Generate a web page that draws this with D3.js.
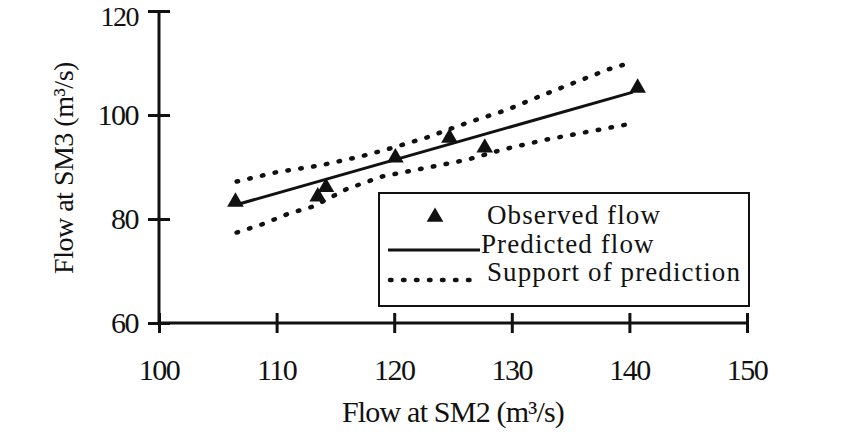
<!DOCTYPE html>
<html>
<head>
<meta charset="utf-8">
<script src="https://cdn.jsdelivr.net/npm/d3@7"></script>
<style>
  html, body { margin: 0; padding: 0; background: #fff; }
  svg { display: block; }
  text { font-family: "Liberation Serif", "Times New Roman", serif; fill: #111; }
</style>
</head>
<body>
<svg id="chart" width="853" height="440"></svg>
<script>
// ---- data ----
const xTicks = [100, 110, 120, 130, 140, 150];
const yTicks = [60, 80, 100, 120];

const observedX = [106.5, 113.5, 114.2, 120.1, 124.7, 127.7, 140.7];
const observedY = [83.3, 84.3, 86.1, 91.8, 95.6, 93.7, 105.2];

const predictedX = [106.5, 140.3];
const predictedY = [82.7, 104.4];

const upperX = [106.6, 110.0, 113.7, 117.1, 119.4, 122.8, 126.2, 129.6, 132.7, 138.1, 140.3];
const upperY = [87.2, 89.0, 90.3, 92.0, 93.4, 95.7, 98.5, 101.0, 103.9, 108.7, 110.2];

const lowerX = [106.6, 108.8, 111.1, 113.1, 116.0, 119.0, 123.3, 126.2, 129.3, 133.0, 139.6, 140.3];
const lowerY = [77.4, 79.0, 81.1, 82.4, 85.8, 88.2, 90.1, 91.4, 93.4, 95.3, 98.1, 98.3];

const legendLabels = ["Observed flow", "Predicted flow", "Support of prediction"];
const xTitle = "Flow at SM2 (m³/s)";
const yTitle = "Flow at SM3 (m³/s)";

// ---- layout ----
const svg = d3.select("#chart");
const x = d3.scaleLinear().domain([100, 150]).range([159, 747]);
const y = d3.scaleLinear().domain([60, 120]).range([323, 11]);
const ink = "#111";
const fontSize = 30;

const line = d3.line().x(d => x(d[0])).y(d => y(d[1]));

const dotted = { stroke: ink, "stroke-width": 4.5, "stroke-dasharray": "1.5,11.5", "stroke-linecap": "round", fill: "none" };
function applyAttrs(sel, attrs) { Object.entries(attrs).forEach(([k, v]) => sel.attr(k, v)); return sel; }

applyAttrs(svg.append("path").datum(d3.zip(upperX, upperY)).attr("d", line), dotted);
applyAttrs(svg.append("path").datum(d3.zip(lowerX, lowerY)).attr("d", line), dotted);

// predicted line
svg.append("path").datum(d3.zip(predictedX, predictedY)).attr("d", line)
  .attr("stroke", ink).attr("stroke-width", 3).attr("fill", "none");

// observed triangles
const tri = d3.symbol().type(d3.symbolTriangle).size(120);
svg.append("g").selectAll("path").data(d3.zip(observedX, observedY)).join("path")
  .attr("d", tri)
  .attr("transform", d => `translate(${x(d[0])},${y(d[1])})`)
  .attr("fill", ink);

// ---- axes ----
const xAxis = svg.append("g").attr("transform", `translate(0,${y(60)})`)
  .call(d3.axisBottom(x).tickValues(xTicks).tickSize(10).tickFormat(""));
xAxis.select(".domain").attr("stroke", ink).attr("stroke-width", 3).attr("d", `M${x(100)},0H${x(150)}`);
xAxis.selectAll(".tick line").attr("y1", -10).attr("y2", 10).attr("stroke", ink).attr("stroke-width", 3);

const yAxis = svg.append("g").attr("transform", `translate(${x(100)},0)`)
  .call(d3.axisLeft(y).tickValues(yTicks).tickSize(11).tickFormat(""));
yAxis.select(".domain").attr("stroke", ink).attr("stroke-width", 3).attr("d", `M0,${y(60)}V${y(120)}`);
yAxis.selectAll(".tick line").attr("x1", -11).attr("x2", 11).attr("stroke", ink).attr("stroke-width", 3);

// tick labels
svg.append("g").selectAll("text").data(xTicks).join("text")
  .attr("x", d => x(d)).attr("y", 380)
  .attr("text-anchor", "middle").attr("font-size", fontSize)
  .attr("letter-spacing", -1.5)
  .text(d => d);

svg.append("g").selectAll("text").data(yTicks).join("text")
  .attr("x", 138).attr("y", d => Math.max(y(d) + 10, 26))
  .attr("text-anchor", "end").attr("font-size", d => d === 120 ? 28 : fontSize)
  .attr("letter-spacing", -1.5)
  .text(d => d);

// axis titles
svg.append("text").attr("x", 453).attr("y", 422)
  .attr("text-anchor", "middle").attr("font-size", fontSize)
  .attr("letter-spacing", -0.8)
  .text(xTitle);

svg.append("text")
  .attr("transform", `translate(73,168) rotate(-90)`)
  .attr("text-anchor", "middle").attr("font-size", 28)
  .attr("letter-spacing", -0.5)
  .text(yTitle);

// ---- legend ----
const lg = svg.append("g");
lg.append("rect").attr("x", 379).attr("y", 193).attr("width", 370).attr("height", 113)
  .attr("fill", "#fff").attr("stroke", ink).attr("stroke-width", 2);

lg.append("path").attr("d", tri).attr("transform", "translate(435,217)").attr("fill", ink);
lg.append("line").attr("x1", 388).attr("x2", 480).attr("y1", 250).attr("y2", 250)
  .attr("stroke", ink).attr("stroke-width", 3);
applyAttrs(lg.append("line").attr("x1", 390).attr("x2", 480).attr("y1", 280).attr("y2", 280), dotted);

const legendX = [487, 481, 487];
const legendY = [224, 253, 281];
lg.selectAll("text.lab").data(legendLabels).join("text").attr("class", "lab")
  .attr("x", (d, i) => legendX[i]).attr("y", (d, i) => legendY[i])
  .attr("font-size", 27)
  .attr("letter-spacing", 1.1)
  .text(d => d);
</script>
</body>
</html>
